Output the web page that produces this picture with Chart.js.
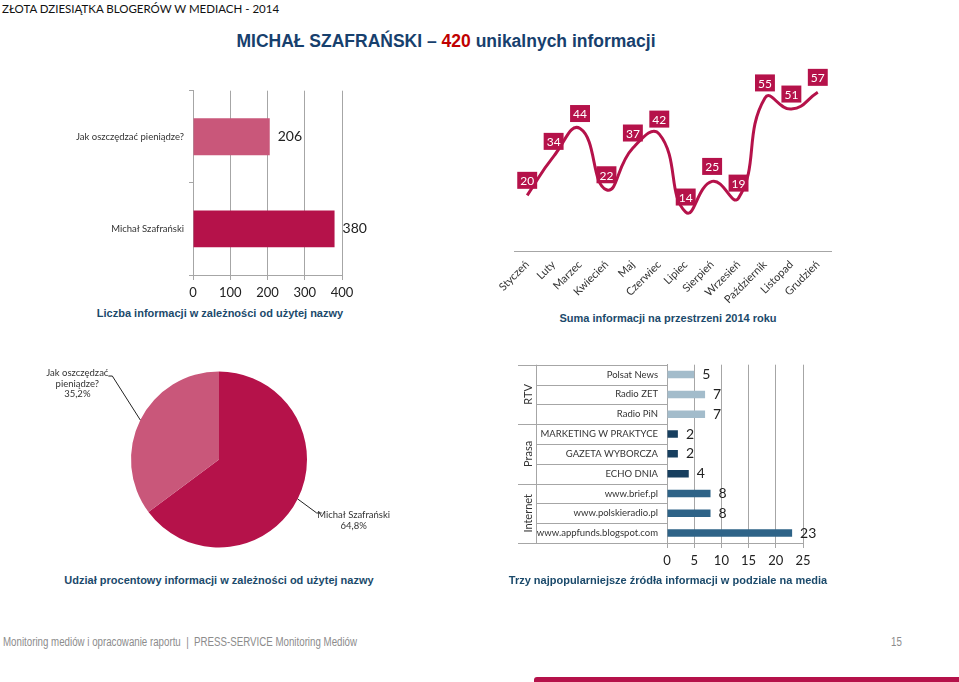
<!DOCTYPE html>
<html>
<head>
<meta charset="utf-8">
<script src="https://cdn.jsdelivr.net/npm/chart.js@4.4.0/dist/chart.umd.min.js"></script>
<style>
  body { margin: 0; width: 959px; height: 682px; position: relative; overflow: hidden; background: #fff; font-family: Lato, sans-serif; }
  canvas { position: absolute; }
  .txt { position: absolute; white-space: nowrap; }
  .ttl { position: absolute; white-space: nowrap; transform: translateX(-50%); font-family: "Liberation Sans", Arial, sans-serif; font-weight: bold; font-size: 11px; line-height: 13px; color: #1B4A6B; }
  .foot { position: absolute; white-space: nowrap; font-family: "Liberation Sans", Arial, sans-serif; font-size: 12px; color: #8C8C8C; transform: scaleX(0.81); transform-origin: left top; }
</style>
</head>
<body>
<div class="txt" style="left:2px;top:2px;font-size:11.5px;color:#111;">ZŁOTA DZIESIĄTKA BLOGERÓW W MEDIACH - 2014</div>
<div class="txt" style="left:446px;top:31px;transform:translateX(-50%);font-family:'Liberation Sans',Arial,sans-serif;font-weight:bold;font-size:17.5px;color:#17406D;">MICHAŁ SZAFRAŃSKI – <span style="color:#C00000">420</span> unikalnych informacji</div>

<canvas id="namesChart" width="350" height="225" style="left:40px;top:80px"></canvas>
<canvas id="monthsChart" width="360" height="250" style="left:480px;top:60px"></canvas>
<canvas id="shareChart" width="400" height="200" style="left:40px;top:360px"></canvas>
<canvas id="sourcesChart" width="330" height="225" style="left:510px;top:350px"></canvas>

<div class="ttl" style="left:220px;top:307px">Liczba informacji w zależności od użytej nazwy</div>
<div class="ttl" style="left:668px;top:312px">Suma informacji na przestrzeni 2014 roku</div>
<div class="ttl" style="left:219px;top:574px">Udział procentowy informacji w zależności od użytej nazwy</div>
<div class="ttl" style="left:668px;top:574px">Trzy najpopularniejsze źródła informacji w podziale na media</div>

<div class="foot" style="left:3px;top:635px;">Monitoring mediów i opracowanie raportu&nbsp; |&nbsp; PRESS-SERVICE Monitoring Mediów</div>
<div class="foot" style="left:891px;top:635px;">15</div>
<div style="position:absolute;left:534px;top:677px;width:425px;height:5px;background:#B5124A;border-top-left-radius:3px;"></div>

<script>
// Liczba informacji w zależności od nazwy
const nameLabels = ["Jak oszczędzać pieniądze?", "Michał Szafrański"];
const nameCounts = [206, 380];

// Suma informacji w miesiącach 2014
const months = ["Styczeń", "Luty", "Marzec", "Kwiecień", "Maj", "Czerwiec", "Lipiec", "Sierpień", "Wrzesień", "Październik", "Listopad", "Grudzień"];
const monthCounts = [20, 34, 44, 22, 37, 42, 14, 25, 19, 55, 51, 57];

// Udział procentowy
const shareLabels = ["Michał Szafrański", "Jak oszczędzać pieniądze?"];
const shareLines = [["Michał Szafrański"], ["Jak oszczędzać", "pieniądze?"]];
const sharePercent = [64.8, 35.2];

// Najpopularniejsze źródła
const sourceLabels = ["Polsat News", "Radio ZET", "Radio PiN", "MARKETING W PRAKTYCE", "GAZETA WYBORCZA", "ECHO DNIA", "www.brief.pl", "www.polskieradio.pl", "www.appfunds.blogspot.com"];
const sourceGroups = ["RTV", "RTV", "RTV", "Prasa", "Prasa", "Prasa", "Internet", "Internet", "Internet"];
const sourceCounts = [5, 7, 7, 2, 2, 4, 8, 8, 23];

const CRIMSON = "#B5124A";
const PINK = "#C9577A";
const GRID = "#A6A6A6";
const groupColors = { RTV: "#A3BCCB", Prasa: "#173F5F", Internet: "#2E6387" };

Chart.defaults.font.family = "Lato";
Chart.defaults.animation = false;
Chart.defaults.responsive = false;
Chart.defaults.plugins.legend.display = false;
Chart.defaults.plugins.tooltip.enabled = false;

// number next to the end of each bar
const barValueLabels = {
  id: "barValueLabels",
  afterDatasetsDraw(chart) {
    const ctx = chart.ctx;
    const meta = chart.getDatasetMeta(0);
    const values = chart.data.datasets[0].data;
    ctx.save();
    ctx.fillStyle = "#222";
    ctx.font = "14px Lato";
    ctx.textBaseline = "middle";
    ctx.textAlign = "left";
    meta.data.forEach((bar, i) => {
      ctx.fillText(String(values[i]), bar.x + 8, bar.y);
    });
    ctx.restore();
  },
};

// boxed labels above the line points
const boxLabels = {
  id: "boxLabels",
  afterDatasetsDraw(chart) {
    const ctx = chart.ctx;
    const meta = chart.getDatasetMeta(0);
    const values = chart.data.datasets[0].data;
    ctx.save();
    ctx.font = "12px Lato";
    ctx.textAlign = "center";
    ctx.textBaseline = "middle";
    meta.data.forEach((pt, i) => {
      const txt = String(values[i]);
      const w = ctx.measureText(txt).width + 6;
      const h = 17;
      const cy = pt.y - 15;
      ctx.fillStyle = CRIMSON;
      ctx.fillRect(pt.x - w / 2, cy - h / 2, w, h);
      ctx.fillStyle = "#fff";
      ctx.fillText(txt, pt.x, cy + 1);
    });
    ctx.restore();
  },
};

// pie labels with leader lines
const pieLabels = {
  id: "pieLabels",
  afterDatasetsDraw(chart) {
    const ctx = chart.ctx;
    const meta = chart.getDatasetMeta(0);
    const layout = [
      { line: [19, 14], text: [56, 16] },
      { line: [-28, -44], text: [-63, -47] },
    ];
    ctx.save();
    ctx.font = "9.5px Lato";
    ctx.fillStyle = "#333";
    ctx.strokeStyle = "#222";
    ctx.lineWidth = 1;
    ctx.textAlign = "center";
    ctx.textBaseline = "middle";
    meta.data.forEach((arc, i) => {
      const mid = (arc.startAngle + arc.endAngle) / 2;
      const ex = arc.x + Math.cos(mid) * arc.outerRadius;
      const ey = arc.y + Math.sin(mid) * arc.outerRadius;
      const l = layout[i];
      ctx.beginPath();
      ctx.moveTo(ex, ey);
      ctx.lineTo(ex + l.line[0], ey + l.line[1]);
      ctx.lineTo(ex + l.line[0] + (l.line[0] > 0 ? 5 : -4), ey + l.line[1]);
      ctx.stroke();
      const lines = shareLines[i].concat([sharePercent[i].toFixed(1).replace(".", ",") + "%"]);
      lines.forEach((s, k) => {
        ctx.fillText(s, ex + l.text[0], ey + l.text[1] + k * 10.5);
      });
    });
    ctx.restore();
  },
};

// table lines and group names on the left of the sources chart
const groupTable = {
  id: "groupTable",
  afterDraw(chart) {
    const ctx = chart.ctx;
    const y = chart.scales.y;
    const right = y.right;
    const colX = y.left + 26;
    const outerX = y.left + 8;
    const n = sourceLabels.length;
    const edges = [];
    for (let i = 0; i <= n; i++) {
      if (i === 0) edges.push(y.top);
      else if (i === n) edges.push(y.bottom);
      else edges.push((y.getPixelForTick(i - 1) + y.getPixelForTick(i)) / 2);
    }
    ctx.save();
    ctx.strokeStyle = GRID;
    ctx.lineWidth = 1;
    edges.forEach((ey, i) => {
      const groupEdge = i === 0 || i === n || sourceGroups[i] !== sourceGroups[i - 1];
      ctx.beginPath();
      ctx.moveTo(groupEdge ? outerX : colX, Math.round(ey) + 0.5);
      ctx.lineTo(right, Math.round(ey) + 0.5);
      ctx.stroke();
    });
    ctx.beginPath();
    ctx.moveTo(colX + 0.5, y.top);
    ctx.lineTo(colX + 0.5, y.bottom);
    ctx.stroke();

    ctx.fillStyle = "#333";
    ctx.font = "11px Lato";
    ctx.textAlign = "center";
    ctx.textBaseline = "middle";
    let start = 0;
    for (let i = 1; i <= n; i++) {
      if (i === n || sourceGroups[i] !== sourceGroups[start]) {
        const cy = (edges[start] + edges[i]) / 2;
        ctx.save();
        ctx.translate((outerX + colX) / 2 + 1, cy);
        ctx.rotate(-Math.PI / 2);
        ctx.fillText(sourceGroups[start], 0, 0);
        ctx.restore();
        start = i;
      }
    }
    ctx.restore();
  },
};

new Chart(document.getElementById("namesChart"), {
  type: "bar",
  data: {
    labels: nameLabels,
    datasets: [{ data: nameCounts, backgroundColor: [PINK, CRIMSON], barPercentage: 0.4, categoryPercentage: 1 }],
  },
  options: {
    indexAxis: "y",
    layout: { padding: { top: 8, right: 48, left: 0, bottom: 0 } },
    scales: {
      x: {
        min: 0, max: 400,
        ticks: { stepSize: 100, color: "#222", font: { size: 13 }, padding: 5 },
        grid: { color: GRID, tickLength: 5 },
        border: { color: GRID },
        afterFit(s) { s.height = 30; },
      },
      y: {
        ticks: { color: "#333", font: { size: 9.5 }, padding: 5 },
        grid: { offset: true, drawOnChartArea: false, tickLength: 4, color: GRID },
        border: { color: GRID },
        afterFit(s) { s.width = 153; },
      },
    },
  },
  plugins: [barValueLabels],
});

new Chart(document.getElementById("monthsChart"), {
  type: "line",
  data: {
    labels: months,
    datasets: [{ data: monthCounts, borderColor: CRIMSON, borderWidth: 3, tension: 0.5, pointRadius: 0, fill: false, clip: false }],
  },
  options: {
    layout: { padding: { left: 34, right: 9, top: 24, bottom: 0 } },
    scales: {
      x: {
        offset: true,
        ticks: { minRotation: 45, maxRotation: 45, autoSkip: false, color: "#333", font: { size: 11 }, padding: 7 },
        grid: { display: false, drawTicks: false },
        border: { color: GRID },
        afterFit(s) { s.height = 59; },
      },
      y: { display: false, min: 0, max: 60 },
    },
  },
  plugins: [boxLabels],
});

new Chart(document.getElementById("shareChart"), {
  type: "pie",
  data: {
    labels: shareLabels,
    datasets: [{ data: sharePercent, backgroundColor: [CRIMSON, PINK], borderWidth: 0 }],
  },
  options: {
    layout: { padding: { left: 91, right: 133, top: 11.5, bottom: 12.5 } },
  },
  plugins: [pieLabels],
});

new Chart(document.getElementById("sourcesChart"), {
  type: "bar",
  data: {
    labels: sourceLabels,
    datasets: [{
      data: sourceCounts,
      backgroundColor: sourceGroups.map((g) => groupColors[g]),
      barPercentage: 0.38,
      categoryPercentage: 1,
    }],
  },
  options: {
    indexAxis: "y",
    layout: { padding: { top: 7, right: 37, left: 0, bottom: 0 } },
    scales: {
      x: {
        min: 0, max: 25,
        ticks: { stepSize: 5, color: "#222", font: { size: 13 }, padding: 5 },
        grid: { color: GRID, tickLength: 5 },
        border: { color: GRID },
        afterFit(s) { s.height = 32; },
      },
      y: {
        ticks: { color: "#333", font: { size: 9.5 }, padding: 9 },
        grid: { display: false, drawTicks: false },
        border: { color: GRID },
        afterFit(s) { s.width = 157; },
      },
    },
  },
  plugins: [barValueLabels, groupTable],
});
</script>
</body>
</html>
